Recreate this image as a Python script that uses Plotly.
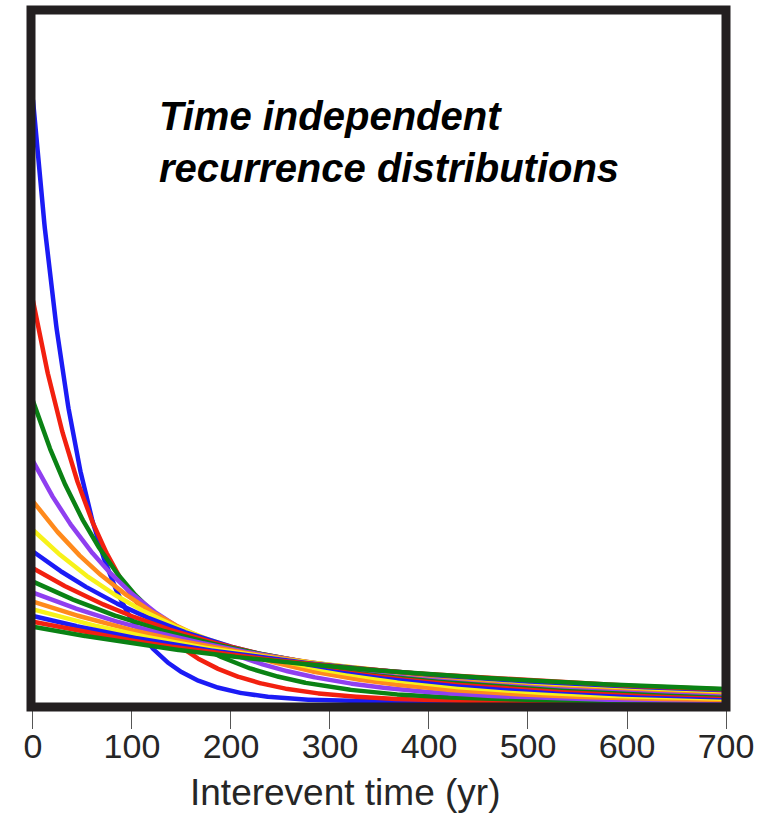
import numpy as np
import plotly.graph_objects as go

# Mean recurrence intervals (yr) of the exponential (time-independent) distributions
mean_intervals = [50, 75, 100, 125, 150, 175, 200, 225, 250, 275, 300, 325, 350, 375, 400]
curve_colors = ["#1b1bf5", "#f2200f", "#0a8214", "#8f3ff0", "#ff8a1c", "#f7f21a"] * 3
x_ticks = [0, 100, 200, 300, 400, 500, 600, 700]
x_title = "Interevent time (yr)"
chart_title = "Time independent<br>recurrence distributions"

t = np.linspace(0, 700, 1401)

fig = go.Figure()
for mu, col in zip(mean_intervals, curve_colors[:len(mean_intervals)]):
    fig.add_trace(go.Scatter(
        x=t, y=np.exp(-t / mu) / mu, mode="lines",
        line=dict(color=col, width=4.5), showlegend=False, hoverinfo="skip"))

fig.update_layout(
    width=758, height=814,
    margin=dict(l=31, r=32, t=10, b=107),
    paper_bgcolor="white", plot_bgcolor="white",
    font=dict(family="Liberation Sans, Arial, sans-serif", color="#222"),
    xaxis=dict(range=[-2, 700], tickvals=x_ticks, ticks="outside", ticklen=21,
               tickwidth=1.2, tickcolor="#555", showgrid=False, zeroline=False,
               showline=False, automargin=False, ticklabelstandoff=-12,
               tickfont=dict(size=34, color="#262626")),
    yaxis=dict(range=[-0.000166, 0.02299], showticklabels=False, ticks="",
               showgrid=False, zeroline=False, showline=False, automargin=False),
    shapes=[dict(type="rect", xref="paper", yref="paper", x0=0, x1=1, y0=0, y1=1,
                 line=dict(color="#231f20", width=9), layer="above")],
    annotations=[
        dict(text="<b><i>" + chart_title + "</i></b>", xref="paper", yref="paper",
             x=(157 - 31) / 695, y=(707 - 92) / 697, xanchor="left", yanchor="top",
             align="left", showarrow=False,
             font=dict(size=40, color="#000", family="Liberation Sans, Arial, sans-serif")),
        dict(text=x_title, xref="paper", yref="paper",
             x=(345 - 31) / 695, y=(707 - 793) / 697, xanchor="center", yanchor="middle",
             showarrow=False, font=dict(size=37, color="#262626")),
    ],
)

fig.write_html("out.html")
